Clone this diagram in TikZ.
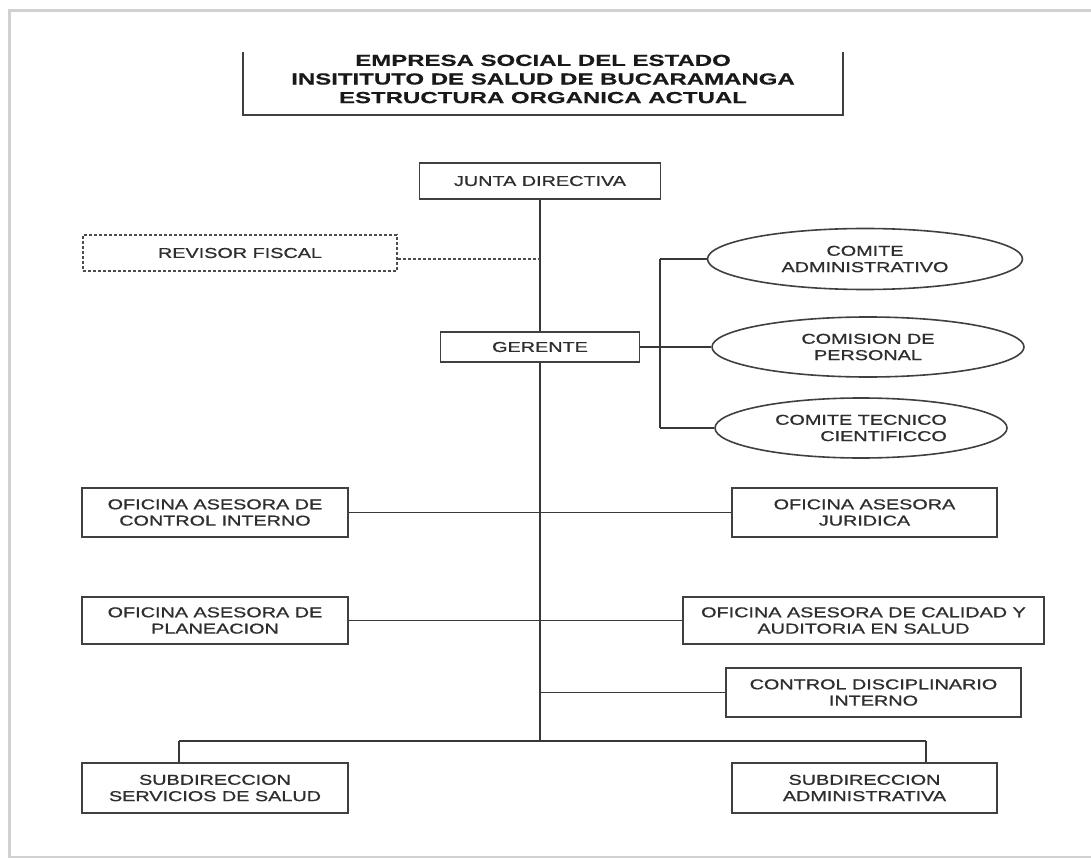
\documentclass[tikz,border=0pt]{standalone}
\usepackage{fontspec}
\setmainfont{Liberation Sans}[FakeStretch=1.385, FakeBold=0.9]
\newfontfamily\titlefont{Liberation Sans Bold}[FakeStretch=1.5, FakeBold=0.4]
\usetikzlibrary{shapes.geometric}
\begin{document}
\begin{tikzpicture}[x=1pt,y=-1pt,
  every node/.style={font=\fontsize{14.3}{16.3}\selectfont, text=black!82},
  orgbox/.style={draw=black!75, line width=1.7pt, fill=white, align=center, inner sep=0pt},
  dashbox/.style={draw=black!70, line width=1.6pt, dash pattern=on 3pt off 2pt, align=center, inner sep=0pt},
  ovalbox/.style={ellipse, draw=black!75, line width=1.6pt, fill=white, align=center, inner sep=0pt},
  titletext/.style={font=\titlefont\fontsize{16}{18.6}\selectfont, align=center, text=black!90},
  link/.style={draw=black!78, line width=1.6pt},
  dashlink/.style={draw=black!70, line width=1.5pt, dash pattern=on 3pt off 2pt},
  frameline/.style={draw=black!75, line width=1.8pt},
  pageframe/.style={draw=black!18, line width=3pt}
]
\fill[white] (0,0) rectangle (1091,858);
\useasboundingbox (0,0) rectangle (1091,858);
\draw[pageframe] (1091,11) -- (9,11) -- (9,857) -- (1091,857);

% title
\node[titletext] (title) at (543,79) {EMPRESA SOCIAL DEL ESTADO\\INSITITUTO DE SALUD DE BUCARAMANGA\\ESTRUCTURA ORGANICA ACTUAL};
\draw[frameline] (243,52) -- (243,115) -- (843,115) -- (843,52);

% nodes
\node[orgbox, minimum width=241pt, minimum height=36pt] (junta) at (540,181) {JUNTA DIRECTIVA};
\node[dashbox, minimum width=314pt, minimum height=36pt] (revisor) at (240,253) {REVISOR FISCAL};
\node[orgbox, minimum width=199pt, minimum height=30pt] (gerente) at (540,347) {GERENTE};
\node[ovalbox, minimum width=315pt, minimum height=61pt] (cadm) at (865,259) {COMITE\\ADMINISTRATIVO};
\node[ovalbox, minimum width=312pt, minimum height=60pt] (cper) at (868,347) {COMISION DE\\PERSONAL};
\node[ovalbox, minimum width=292pt, minimum height=60pt, align=right] (ctec) at (861,428) {COMITE TECNICO\\CIENTIFICCO};
\node[orgbox, minimum width=266pt, minimum height=49pt] (ctrl) at (215,512.5) {OFICINA ASESORA DE\\CONTROL INTERNO};
\node[orgbox, minimum width=265pt, minimum height=49pt] (jur) at (864.5,512.5) {OFICINA ASESORA\\JURIDICA};
\node[orgbox, minimum width=266pt, minimum height=47pt] (plan) at (215,620.5) {OFICINA ASESORA DE\\PLANEACION};
\node[orgbox, minimum width=361pt, minimum height=47pt] (cal) at (863.5,620.5) {OFICINA ASESORA DE CALIDAD Y\\AUDITORIA EN SALUD};
\node[orgbox, minimum width=295pt, minimum height=49pt] (disc) at (873.5,692.5) {CONTROL DISCIPLINARIO\\INTERNO};
\node[orgbox, minimum width=266pt, minimum height=50pt] (serv) at (215,788) {SUBDIRECCION\\SERVICIOS DE SALUD};
\node[orgbox, minimum width=265pt, minimum height=50pt] (adm) at (864.5,788) {SUBDIRECCION\\ADMINISTRATIVA};

% helper coordinates
\coordinate (tend) at (540,741);
\coordinate (bl) at (179,741);
\coordinate (br) at (926,741);
\coordinate (brk) at (660,347);

% connectors
\draw[link] (junta.south) -- (gerente.north);
\draw[link] (gerente.south) -- (tend);
\draw[dashlink] ([yshift=-6pt]revisor.east) -- ([yshift=-6pt]revisor.east -| junta.south);
\draw[link] (gerente.east) -- (brk);
\draw[link] (cadm.west -| brk) -- (ctec.west -| brk);
\draw[link] (cadm.west -| brk) -- (cadm.west);
\draw[link] (brk) -- (cper.west);
\draw[link] (ctec.west -| brk) -- (ctec.west);
\draw[link] (ctrl.east) -- (jur.west);
\draw[link] (plan.east) -- (cal.west);
\draw[link] (disc.west -| tend) -- (disc.west);
\draw[link] (bl) -- (br);
\draw[link] (bl) -- (bl |- serv.north);
\draw[link] (br) -- (br |- adm.north);
\end{tikzpicture}
\end{document}
